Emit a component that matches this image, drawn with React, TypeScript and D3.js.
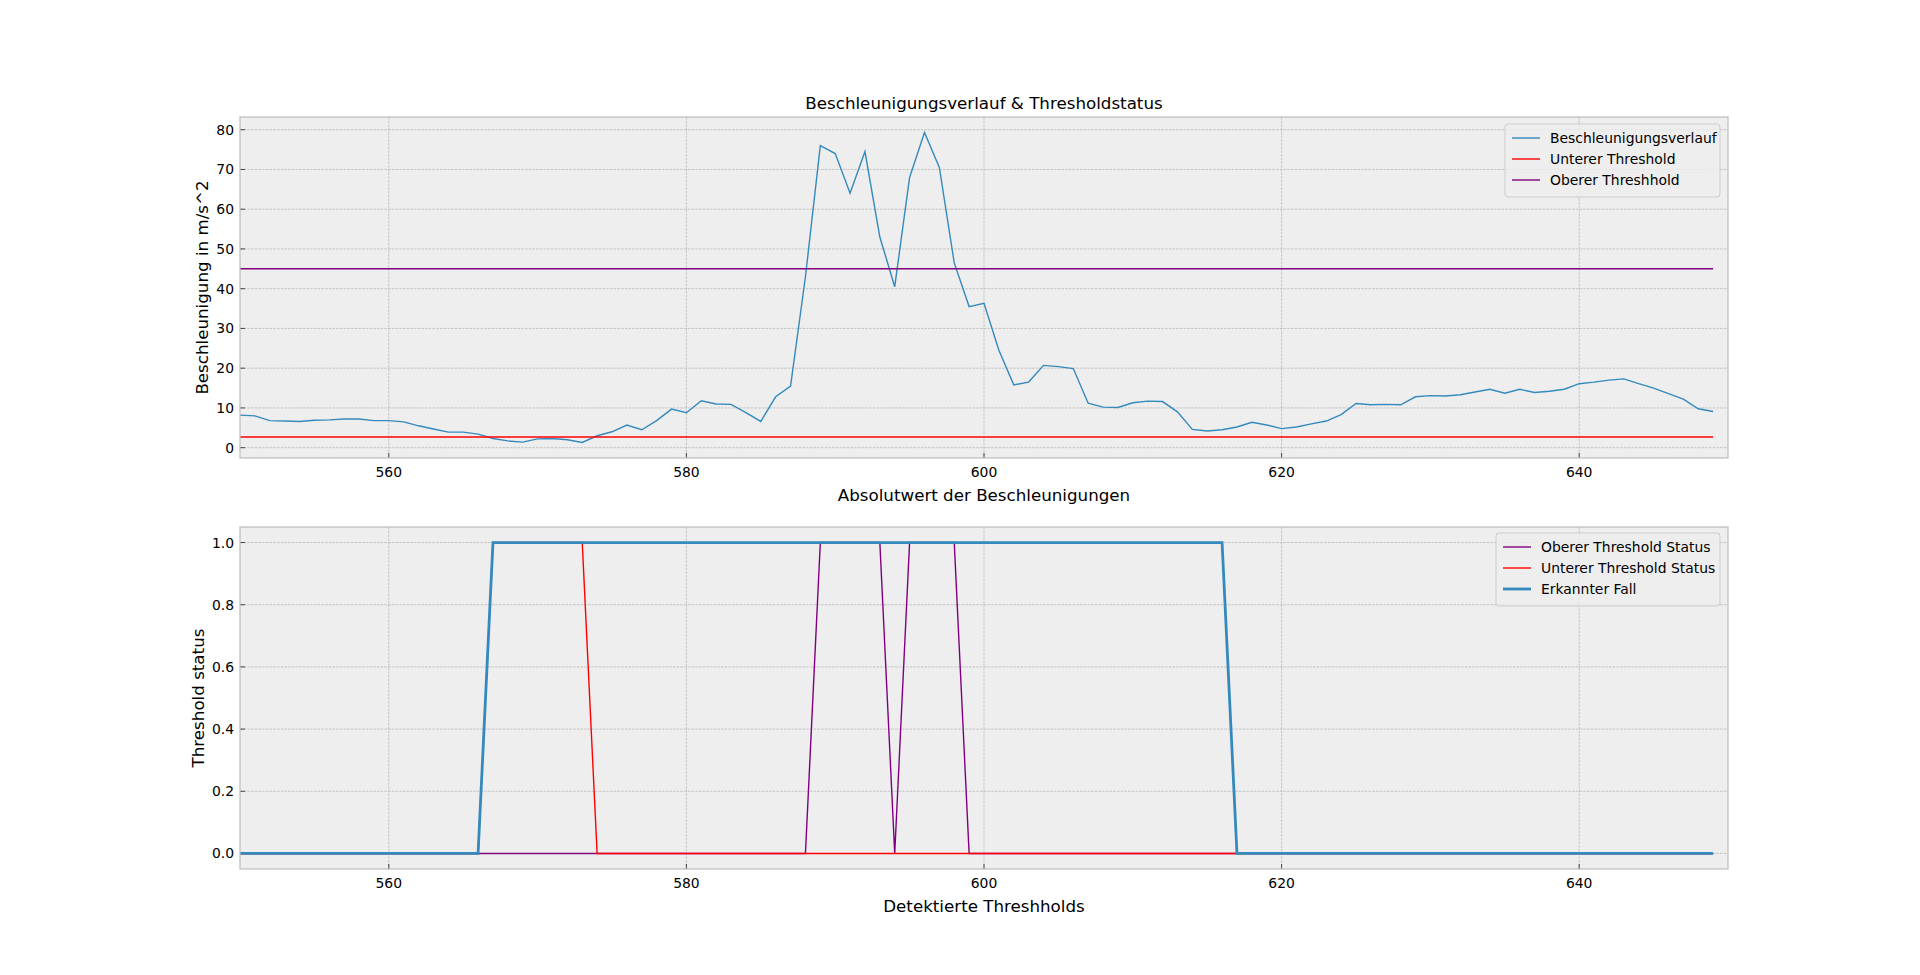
import React from "react";
import * as d3 from "d3";

// Messwerte ab Index 550
const startIndex = 550;
const acceleration = [
  8.2, 8.0, 6.8, 6.7, 6.6, 6.9, 7.0, 7.2, 7.2, 6.8,
  6.8, 6.5, 5.5, 4.7, 3.9, 3.9, 3.4, 2.3, 1.7, 1.4,
  2.2, 2.3, 2.0, 1.3, 3.0, 4.0, 5.7, 4.5, 6.8, 9.7,
  8.8, 11.8, 11.0, 10.9, 8.8, 6.6, 12.8, 15.5, 43.0, 76.0,
  74.0, 64.0, 74.5, 53.0, 40.5, 68.0, 79.3, 70.5, 46.5, 35.5,
  36.3, 24.5, 15.8, 16.5, 20.7, 20.4, 19.9, 11.2, 10.2, 10.1,
  11.3, 11.7, 11.6, 9.0, 4.6, 4.2, 4.5, 5.2, 6.4, 5.7,
  4.8, 5.2, 6.0, 6.7, 8.3, 11.1, 10.8, 10.9, 10.8, 12.8,
  13.1, 13.0, 13.3, 14.0, 14.7, 13.7, 14.7, 13.9, 14.2, 14.7,
  16.1, 16.5, 17.0, 17.3, 16.1, 15.0, 13.6, 12.2, 9.8, 9.1,
];
const lowerThreshold = 2.7;
const upperThreshold = 45;

// Statusfolgen (0/1) je Index
const upperStatus = acceleration.map((_, i) => {
  const k = i + startIndex;
  return (k >= 589 && k <= 593) || (k >= 595 && k <= 598) ? 1 : 0;
});
const lowerStatus = acceleration.map((_, i) => {
  const k = i + startIndex;
  return k >= 567 && k <= 573 ? 1 : 0;
});
const detectedFall = acceleration.map((_, i) => {
  const k = i + startIndex;
  return k >= 567 && k <= 616 ? 1 : 0;
});

const xTicks = [560, 580, 600, 620, 640];
const yTicksTop = [0, 10, 20, 30, 40, 50, 60, 70, 80];
const yTicksBottom = [0, 0.2, 0.4, 0.6, 0.8, 1.0];

const W = 1920;
const H = 975;
const left = 240;
const right = 1728;
const top1 = 117;
const bot1 = 458;
const top2 = 527;
const bot2 = 869;
const font = "'DejaVu Sans', sans-serif";
const blue = "#348ABD";

const x = d3.scaleLinear().domain([550, 650]).range([left, right]);
const yTop = d3.scaleLinear().domain([-2.6, 83.2]).range([bot1, top1]);
const yBot = d3.scaleLinear().domain([-0.05, 1.05]).range([bot2, top2]);

function Axes({ y, top, bottom, yTicks, fmt, xlabel, ylabel, ylabelX }) {
  return (
    <g>
      <rect x={left} y={top} width={right - left} height={bottom - top} fill="#eeeeee" />
      {xTicks.map((t) => (
        <line key={"gx" + t} x1={x(t)} x2={x(t)} y1={top} y2={bottom} stroke="#b2b2b2" strokeWidth={0.7} strokeDasharray="2.6,1.1" />
      ))}
      {yTicks.map((t) => (
        <line key={"gy" + t} x1={left} x2={right} y1={y(t)} y2={y(t)} stroke="#b2b2b2" strokeWidth={0.7} strokeDasharray="2.6,1.1" />
      ))}
      {xTicks.map((t) => (
        <g key={"tx" + t}>
          <line x1={x(t)} x2={x(t)} y1={bottom} y2={bottom - 5} stroke="#222" strokeWidth={0.8} />
          <text x={x(t)} y={bottom + 19} textAnchor="middle" fontSize={13.9} fontFamily={font}>{t}</text>
        </g>
      ))}
      {yTicks.map((t) => (
        <g key={"ty" + t}>
          <line x1={left} x2={left + 5} y1={y(t)} y2={y(t)} stroke="#222" strokeWidth={0.8} />
          <text x={left - 6} y={y(t) + 5} textAnchor="end" fontSize={13.9} fontFamily={font}>{fmt(t)}</text>
        </g>
      ))}
      <text x={(left + right) / 2} y={bottom + 43} textAnchor="middle" fontSize={16.7} fontFamily={font}>{xlabel}</text>
      <text transform={`translate(${ylabelX},${(top + bottom) / 2}) rotate(-90)`} textAnchor="middle" fontSize={16.7} fontFamily={font}>{ylabel}</text>
    </g>
  );
}

function Legend({ x0, y0, w, items }) {
  const h = items.length * 21 + 10;
  return (
    <g>
      <rect x={x0} y={y0} width={w} height={h} rx={3} fill="#eeeeee" fillOpacity={0.8} stroke="#cccccc" />
      {items.map((it, i) => (
        <g key={it.label}>
          <line x1={x0 + 7} x2={x0 + 35} y1={y0 + 14 + i * 21} y2={y0 + 14 + i * 21} stroke={it.color} strokeWidth={it.width} />
          <text x={x0 + 45} y={y0 + 19 + i * 21} fontSize={13.9} fontFamily={font}>{it.label}</text>
        </g>
      ))}
    </g>
  );
}

export default function App() {
  const idx = acceleration.map((_, i) => i + startIndex);
  const lineTop = d3.line<number>().x((_, i) => x(idx[i])).y((d) => yTop(d));
  const lineBot = d3.line<number>().x((_, i) => x(idx[i])).y((d) => yBot(d));
  const first = idx[0];
  const last = idx[idx.length - 1];

  return (
    <svg width={W} height={H} style={{ display: "block", position: "absolute", left: 0, top: 0 }}>
      <rect width={W} height={H} fill="#ffffff" />
      <text x={(left + right) / 2} y={109} textAnchor="middle" fontSize={16.7} fontFamily={font}>
        Beschleunigungsverlauf &amp; Thresholdstatus
      </text>

      <Axes y={yTop} top={top1} bottom={bot1} yTicks={yTicksTop} fmt={(t) => String(t)}
        xlabel="Absolutwert der Beschleunigungen" ylabel="Beschleunigung in m/s^2" ylabelX={208} />
      <g clipPath="none">
        <path d={lineTop(acceleration) || ""} fill="none" stroke={blue} strokeWidth={1.4} />
        <line x1={x(first)} x2={x(last)} y1={yTop(lowerThreshold)} y2={yTop(lowerThreshold)} stroke="red" strokeWidth={1.4} />
        <line x1={x(first)} x2={x(last)} y1={yTop(upperThreshold)} y2={yTop(upperThreshold)} stroke="purple" strokeWidth={1.4} />
      </g>
      <rect x={left} y={top1} width={right - left} height={bot1 - top1} fill="none" stroke="#bcbcbc" strokeWidth={1.2} />
      <Legend x0={1505} y0={124} w={215} items={[
        { label: "Beschleunigungsverlauf", color: blue, width: 1.4 },
        { label: "Unterer Threshold", color: "red", width: 1.4 },
        { label: "Oberer Threshhold", color: "purple", width: 1.4 },
      ]} />

      <Axes y={yBot} top={top2} bottom={bot2} yTicks={yTicksBottom} fmt={(t) => t.toFixed(1)}
        xlabel="Detektierte Threshholds" ylabel="Threshold status" ylabelX={204} />
      <path d={lineBot(upperStatus) || ""} fill="none" stroke="purple" strokeWidth={1.4} />
      <path d={lineBot(lowerStatus) || ""} fill="none" stroke="red" strokeWidth={1.4} />
      <path d={lineBot(detectedFall) || ""} fill="none" stroke={blue} strokeWidth={2.8} />
      <rect x={left} y={top2} width={right - left} height={bot2 - top2} fill="none" stroke="#bcbcbc" strokeWidth={1.2} />
      <Legend x0={1496} y0={533} w={224} items={[
        { label: "Oberer Threshold Status", color: "purple", width: 1.4 },
        { label: "Unterer Threshold Status", color: "red", width: 1.4 },
        { label: "Erkannter Fall", color: blue, width: 2.8 },
      ]} />
    </svg>
  );
}
